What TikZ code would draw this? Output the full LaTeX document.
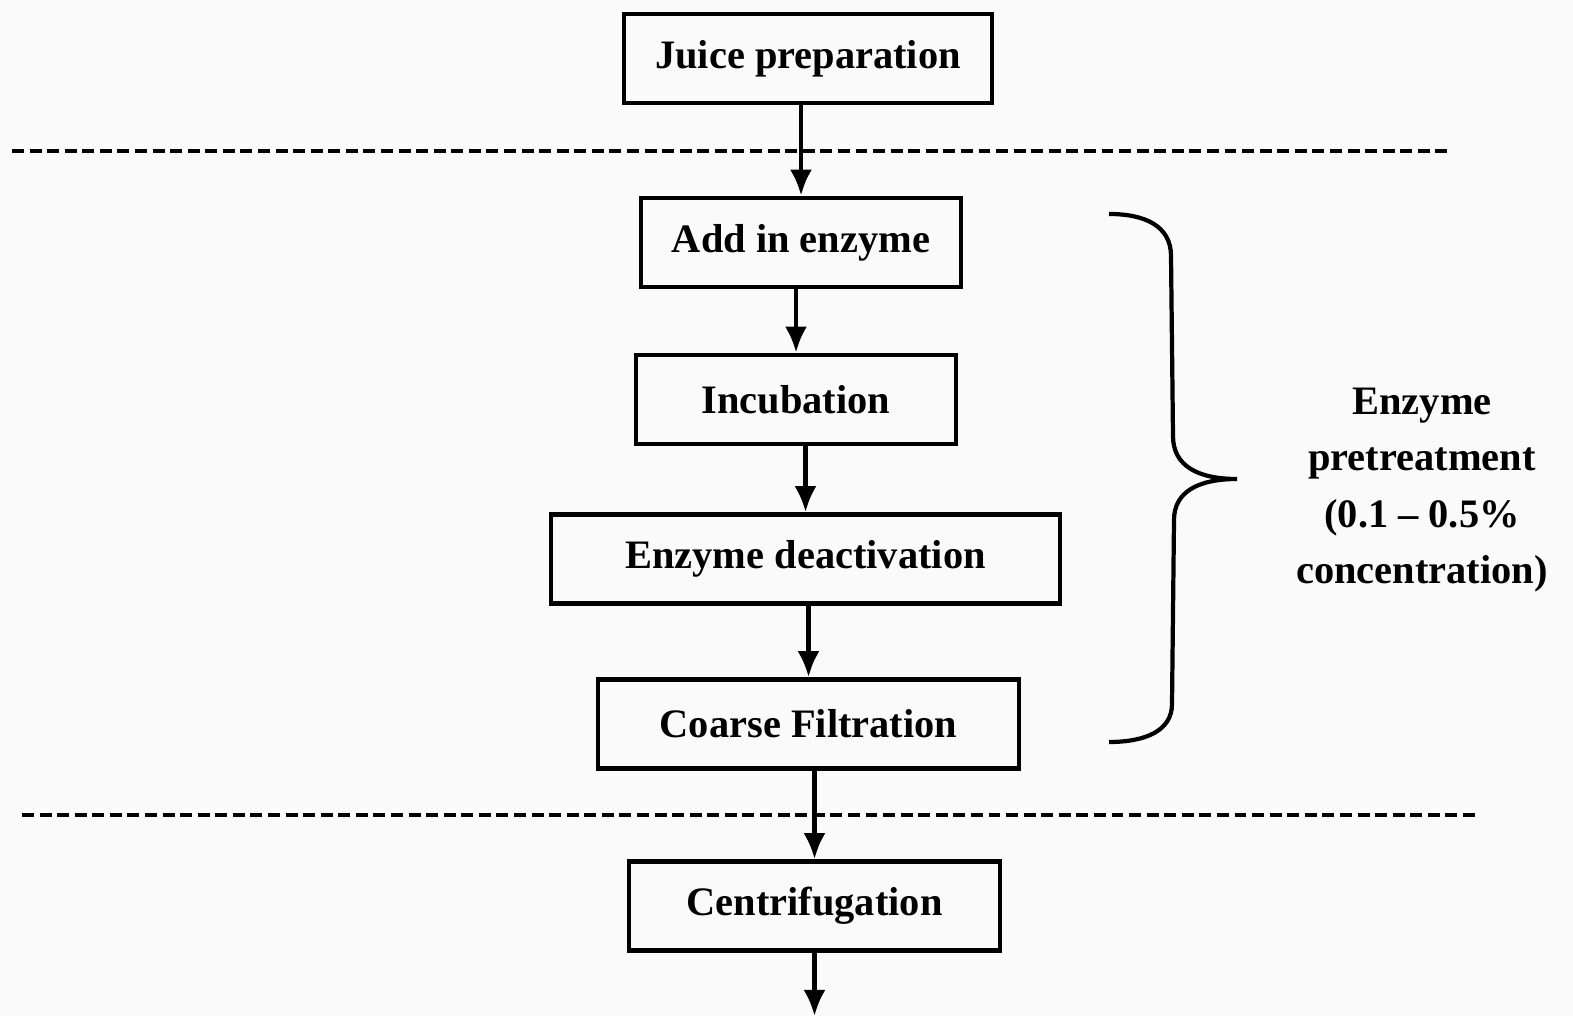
\documentclass[tikz,border=0pt]{standalone}
\usepackage{fontspec}
\setmainfont{Liberation Serif}
\usetikzlibrary{arrows.meta}
\definecolor{paper}{RGB}{250,250,250}

\begin{document}
\begin{tikzpicture}[stage/.style={draw,line width=1.3pt,minimum height=0.89cm,inner sep=2pt,font=\fontsize{11.5}{14}\bfseries\selectfont},
  flow/.style={line width=1.3pt,-{Latex[length=2.6mm,width=2.2mm]}},
  cut/.style={line width=1pt,dash pattern=on 3.4pt off 1.6pt}]
\fill [paper] (0,0) rectangle (15.73,10.16);
\useasboundingbox (0,0) rectangle (15.73,10.16);
\node [stage,minimum width=3.68cm] (juice) at (8.08,9.575) {Juice preparation};
\node [stage,minimum width=3.20cm] (add) at (8.01,7.735) {Add in enzyme};
\node [stage,minimum width=3.20cm] (incub) at (7.96,6.165) {Incubation};
\node [stage,minimum width=5.09cm] (deact) at (8.055,4.57) {Enzyme deactivation};
\node [stage,minimum width=4.21cm] (coarse) at (8.085,2.92) {Coarse Filtration};
\node [stage,minimum width=3.71cm] (centri) at (8.145,1.10) {Centrifugation};
\node [align=center,font=\fontsize{11.5}{16}\bfseries\selectfont] (pretreat) at (14.22,5.26) {Enzyme\\pretreatment\\(0.1 -- 0.5\%\\concentration)};
\coordinate (out) at (8.18,0);
\coordinate (cutAL) at (0.12,8.65);
\coordinate (cutAR) at (14.50,8.65);
\coordinate (cutBL) at (0.22,2.01);
\coordinate (cutBR) at (14.75,2.01);
\coordinate (braceT) at (11.09,8.02);
\coordinate (braceTip) at (12.37,5.37);
\coordinate (braceB) at (11.09,2.74);
\draw [cut] (cutAL) to (cutAR);
\draw [cut] (cutBL) to (cutBR);
\draw [flow] (juice.south -| add) to (add);
\draw [flow] (add.south -| incub) to (incub);
\draw [flow] (incub.south -| deact) to (deact);
\draw [flow] (deact.south -| coarse) to (coarse);
\draw [flow] (coarse.south -| centri) to (centri);
\draw [flow] (centri) to (centri |- out);
\draw [line width=1.2pt] (braceT) .. controls (11.45,8.02) and (11.71,7.90) .. (11.71,7.60) -- (11.73,5.80)
  .. controls (11.73,5.50) and (11.98,5.37) .. (braceTip)
  .. controls (11.98,5.37) and (11.74,5.24) .. (11.74,4.96) -- (11.72,3.12)
  .. controls (11.72,2.85) and (11.45,2.74) .. (braceB);
\end{tikzpicture}
\end{document}
